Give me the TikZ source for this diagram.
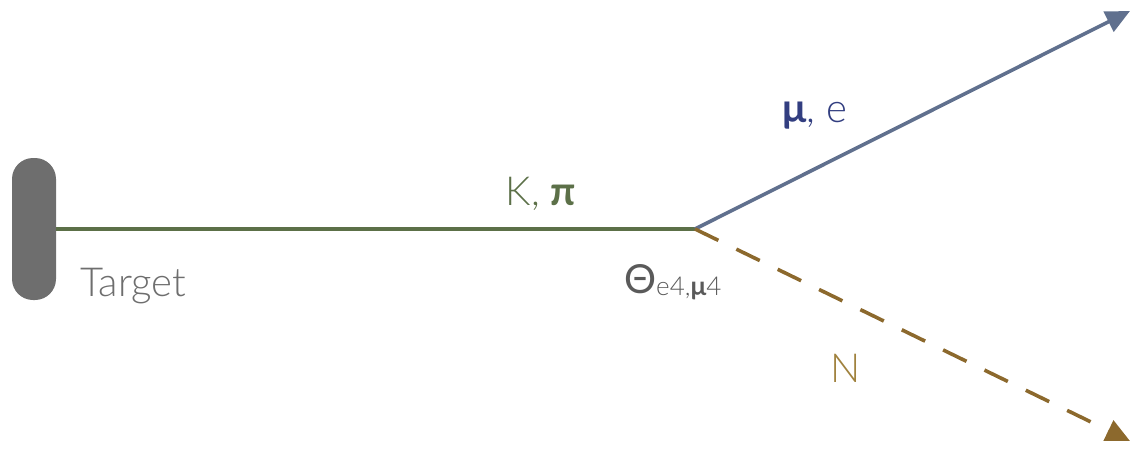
\documentclass[tikz,border=0pt]{standalone}
\usepackage{fontspec}
\setmainfont{Lato Light}[BoldFont=Lato Bold]
\newfontfamily\regfont{Lato}
\usetikzlibrary{arrows.meta}
\definecolor{tgray}{RGB}{110,110,110}
\definecolor{kgreen}{RGB}{92,112,72}
\definecolor{mublue}{RGB}{96,112,142}
\definecolor{mutext}{RGB}{50,62,128}
\definecolor{nbrown}{RGB}{140,105,45}
\definecolor{ntext}{RGB}{160,130,62}
\definecolor{labgray}{RGB}{90,90,90}
\tikzset{
  lbl/.style={inner sep=0pt, font=\fontsize{40}{44}\selectfont},
  track/.style={line width=3.6pt},
  tip/.style={-{Triangle[length=24pt,width=22pt]}}
}
\begin{document}
\begin{tikzpicture}[x=1pt,y=-1pt]
\useasboundingbox (0,0) rectangle (1143,448);
\node[fill=tgray, rounded corners=21pt, minimum width=44pt, minimum height=142pt, inner sep=0pt] (target) at (34,229) {};
\coordinate (v) at (695,229);
\coordinate (mu) at (1130,11);
\coordinate (nn) at (1130,441);
\draw[track, kgreen] (target.east) -- (v);
\draw[track, mublue, tip] (v) -- (mu);
\draw[track, nbrown, tip, dash pattern=on 26pt off 20pt] (v) -- (nn);
\node[lbl, text=tgray, anchor=base west] (tlabel) at (80,296) {Target};
\node[lbl, text=kgreen, anchor=base] (klabel) at (541,205) {K, \textbf{π}};
\node[lbl, text=mutext, anchor=base] (mulabel) at (815,122) {\textbf{μ}, e};
\node[lbl, text=ntext, anchor=base] (nlabel) at (846,382) {N};
\node[lbl, text=labgray, anchor=base west] (theta) at (624,293) {{\regfont\fontsize{40}{44}\selectfont Θ}\raisebox{-2pt}{\fontsize{26}{28}\selectfont e4,\textbf{μ}4}};
\end{tikzpicture}
\end{document}
